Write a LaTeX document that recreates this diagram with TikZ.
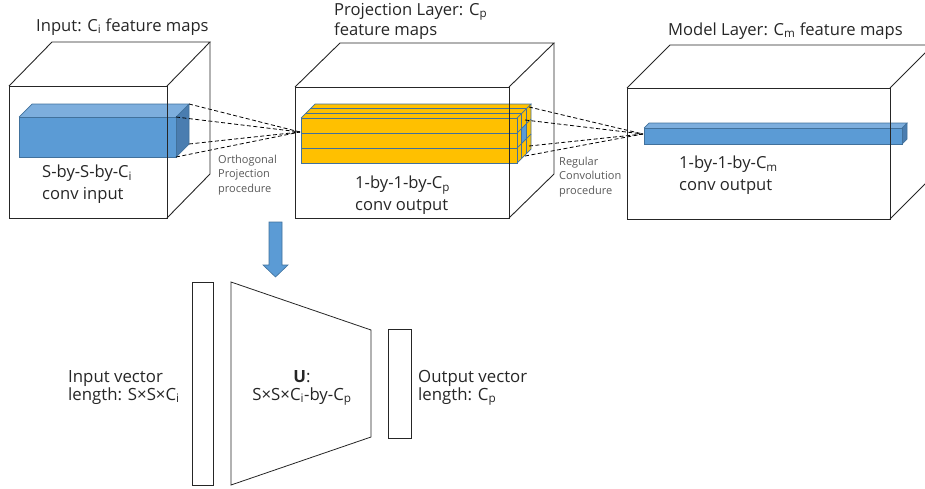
\documentclass[tikz,border=0pt]{standalone}
\usepackage{fontspec}
\setmainfont{Open Sans}
\definecolor{bfront}{HTML}{5B9BD5}
\definecolor{btop}{HTML}{7DAEDD}
\definecolor{bright}{HTML}{4A7DB0}
\definecolor{bline}{HTML}{41719C}
\definecolor{ylw}{HTML}{FFC000}
\definecolor{wire}{HTML}{262626}
\definecolor{txt}{HTML}{262626}
\definecolor{smalltxt}{HTML}{595959}
\begin{document}
\begin{tikzpicture}[x=1pt,y=-1pt,
  wireline/.style={draw=wire,line width=0.9pt},
  boxline/.style={draw=bline,line width=0.7pt},
  dashline/.style={draw=black,line width=0.8pt,dash pattern=on 4pt off 2.5pt},
  bigtext/.style={text=txt,inner sep=0pt,anchor=base west,align=left,font=\fontsize{16.6}{21.5}\selectfont},
  bottext/.style={text=txt,inner sep=0pt,anchor=base west,align=left,font=\fontsize{16.8}{18}\selectfont},
  smtext/.style={text=smalltxt,inner sep=0pt,anchor=base west,align=left,font=\fontsize{11}{14.5}\selectfont}]
\useasboundingbox (0,0) rectangle (925,488);
\clip (0,0) rectangle (925,488);

% ---------- blue box in input cube ----------
\fill[bfront] (19,117) rectangle (176,157);
\fill[btop] (19,117) -- (32,104) -- (189,104) -- (176,117) -- cycle;
\fill[bright] (176,117) -- (189,104) -- (189,144) -- (176,157) -- cycle;
\draw[boxline] (19,117) rectangle (176,157);
\draw[boxline] (19,117) -- (32,104) -- (189,104) -- (176,117);
\draw[boxline] (189,104) -- (189,144) -- (176,157);
\coordinate (a1) at (189,104);
\coordinate (a2) at (176,117);
\coordinate (a3) at (189,144);
\coordinate (a4) at (176,157);

% ---------- yellow block in projection cube ----------
\fill[ylw] (301,118) rectangle (517,163);
\fill[ylw] (301,118) -- (315,104) -- (531,104) -- (517,118) -- cycle;
\fill[ylw] (517,118) -- (531,104) -- (531,149) -- (517,163) -- cycle;
\fill[bfront] (521.67,128.33) -- (526.33,123.67) -- (526.33,138.67) -- (521.67,143.33) -- cycle;
\draw[boxline] (301,118) rectangle (517,163);
\draw[boxline] (301,133) -- (517,133);
\draw[boxline] (301,148) -- (517,148);
\draw[boxline] (301,118) -- (315,104) -- (531,104) -- (517,118);
\draw[boxline] (305.67,113.33) -- (521.67,113.33);
\draw[boxline] (310.33,108.67) -- (526.33,108.67);
\draw[boxline] (531,104) -- (531,149) -- (517,163);
\draw[boxline] (521.67,113.33) -- (521.67,158.33);
\draw[boxline] (526.33,108.67) -- (526.33,153.67);
\draw[boxline] (517,133) -- (531,119);
\draw[boxline] (517,148) -- (531,134);
\coordinate (pin) at (300,132);
\coordinate (b1) at (529,107);
\coordinate (b2) at (525,120);
\coordinate (b3) at (529,146);
\coordinate (b4) at (525,156);

% ---------- blue bar in model cube ----------
\fill[bfront] (644,128) rectangle (902,144);
\fill[btop] (644,128) -- (649,123) -- (907,123) -- (902,128) -- cycle;
\fill[bright] (902,128) -- (907,123) -- (907,139) -- (902,144) -- cycle;
\draw[boxline] (644,128) rectangle (902,144);
\draw[boxline] (644,128) -- (649,123) -- (907,123) -- (902,128);
\draw[boxline] (907,123) -- (907,139) -- (902,144);
\coordinate (min) at (643,134);

% ---------- dashed projection lines ----------
\foreach \p in {a1,a2,a3,a4} \draw[dashline] (\p) -- (pin);
\foreach \p in {b1,b2,b3,b4} \draw[dashline] (\p) -- (min);

% ---------- cubes ----------
\draw[wireline] (9,86) rectangle (167,218);
\draw[wireline] (9,86) -- (52,42) -- (210,42) -- (167,86);
\draw[wireline] (210,42) -- (210,174) -- (167,218);

\draw[wireline] (295,87) rectangle (509,218);
\draw[wireline] (295,87) -- (340,43) -- (554,43) -- (509,87);
\draw[wireline] (554,43) -- (554,174) -- (509,218);

\draw[wireline] (627,88) rectangle (890,219);
\draw[wireline] (627,88) -- (670,45) -- (933,45) -- (890,88);
\draw[wireline] (933,45) -- (933,176) -- (890,219);

% ---------- texts of top row (anchor = baseline of last line) ----------
\node[bigtext] (t1) at (36,31) {Input: C\textsubscript{i} feature maps};
\node[bigtext] (t2) at (42,199) {S-by-S-by-C\textsubscript{i}\\conv input};
\node[smtext] (t3) at (218,192) {Orthogonal\\Projection\\procedure};
\node[bigtext,font=\fontsize{16.6}{20}\selectfont] (t4) at (334,35) {Projection Layer: C\textsubscript{p}\\feature maps};
\node[bigtext] (t5) at (355,210) {1-by-1-by-C\textsubscript{p}\\conv output};
\node[smtext] (t6) at (559,194) {Regular\\Convolution\\procedure};
\node[bigtext] (t7) at (668,35) {Model Layer: C\textsubscript{m} feature maps};
\node[bigtext] (t8) at (679,190) {1-by-1-by-C\textsubscript{m}\\conv output};

% ---------- down arrow ----------
\filldraw[fill=bfront,draw=bline,line width=0.6pt] (269,222) -- (282,222) -- (282,265) -- (288,265) -- (275.5,277) -- (263,265) -- (269,265) -- cycle;

% ---------- bottom: vector / matrix ----------
\draw[wireline,line width=0.8pt] (192,282) rectangle (213,485);
\draw[wireline,line width=0.8pt] (231,282) -- (371,330) -- (371,437) -- (231,485) -- cycle;
\draw[wireline,line width=0.8pt] (388,329) rectangle (411,438);

\node[bottext] (u1) at (68,400) {Input vector\\length: S×S×C\textsubscript{i}};
\node[bottext,align=center,anchor=base] (u2) at (302,400) {\textbf{U}:\\S×S×C\textsubscript{i}-by-C\textsubscript{p}};
\node[bottext] (u3) at (418,400) {Output vector\\length: C\textsubscript{p}};
\end{tikzpicture}
\end{document}
